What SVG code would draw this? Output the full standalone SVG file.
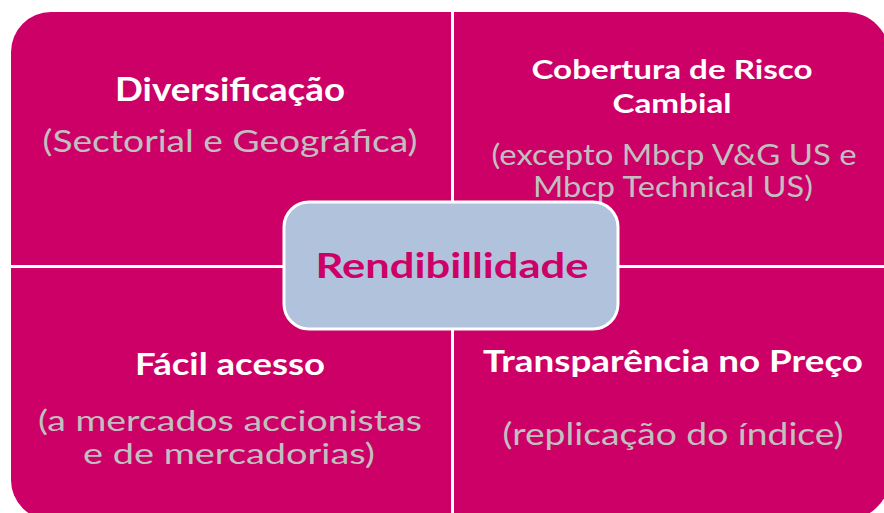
<svg xmlns="http://www.w3.org/2000/svg" width="884" height="513" viewBox="0 0 884 513">
  <style>
    .quad { fill: #CC0066; }
    .title { font-family: Lato, "Liberation Sans", sans-serif; font-weight: bold; fill: #FFFFFF; text-anchor: middle; }
    .sub { font-family: Lato, "Liberation Sans", sans-serif; fill: #C0C0C0; text-anchor: middle; }
    .center { fill: #B0C2DC; stroke: #FFFFFF; stroke-width: 3; }
    .ctext { font-family: Lato, "Liberation Sans", sans-serif; font-weight: bold; fill: #CC0066; text-anchor: middle; }
  </style>
  <rect width="884" height="513" fill="#FFFFFF"/>
  <g id="q-diversificacao">
    <path class="quad" d="M11,52 A40,40 0 0 1 51,12 L451,12 L451,265 L11,265 Z"/>
    <text class="title" x="230" y="101" font-size="32" textLength="230" lengthAdjust="spacingAndGlyphs">Diversificação</text>
    <text class="sub" x="230" y="152" font-size="30" textLength="375" lengthAdjust="spacingAndGlyphs">(Sectorial e Geográfica)</text>
  </g>
  <g id="q-cobertura">
    <path class="quad" d="M454,12 L846,12 A44,44 0 0 1 890,56 L890,265 L454,265 Z"/>
    <text class="title" x="672" y="79" font-size="27" textLength="281" lengthAdjust="spacingAndGlyphs">Cobertura de Risco</text>
    <text class="title" x="672" y="113" font-size="27" textLength="119" lengthAdjust="spacingAndGlyphs">Cambial</text>
    <text class="sub" x="674" y="165" font-size="29" textLength="365" lengthAdjust="spacingAndGlyphs">(excepto Mbcp V&amp;G US e</text>
    <text class="sub" x="673" y="197" font-size="29" textLength="280" lengthAdjust="spacingAndGlyphs">Mbcp Technical US)</text>
  </g>
  <g id="q-facil">
    <path class="quad" d="M11,268 L451,268 L451,520 L51,520 A40,40 0 0 1 11,480 Z"/>
    <text class="title" x="230" y="375" font-size="30" textLength="190" lengthAdjust="spacingAndGlyphs">Fácil acesso</text>
    <text class="sub" x="230" y="431" font-size="28" textLength="384" lengthAdjust="spacingAndGlyphs">(a mercados accionistas</text>
    <text class="sub" x="229" y="464" font-size="28" textLength="292" lengthAdjust="spacingAndGlyphs">e de mercadorias)</text>
  </g>
  <g id="q-transparencia">
    <path class="quad" d="M454,268 L890,268 L890,476 A44,44 0 0 1 846,520 L454,520 Z"/>
    <text class="title" x="673" y="372" font-size="30" textLength="380" lengthAdjust="spacingAndGlyphs">Transparência no Preço</text>
    <text class="sub" x="673" y="445" font-size="30" textLength="341" lengthAdjust="spacingAndGlyphs">(replicação do índice)</text>
  </g>
  <g id="n-rendibilidade">
    <rect class="center" x="284" y="202" width="334" height="127" rx="25" ry="25"/>
    <text class="ctext" x="452" y="278" font-size="35" textLength="273" lengthAdjust="spacingAndGlyphs">Rendibillidade</text>
  </g>
  <g id="connectors"/>
</svg>
